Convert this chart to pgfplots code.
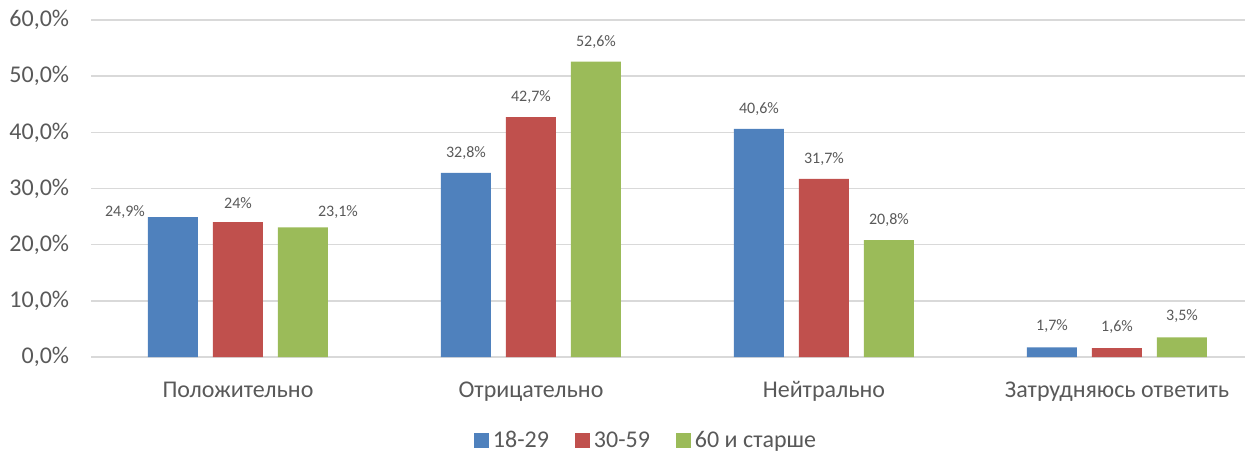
\documentclass[border=0pt]{standalone}
\usepackage{fontspec}
\setmainfont{Carlito}
\usepackage{pgfplots}
\pgfplotsset{compat=1.18}
\definecolor{cA}{HTML}{4F81BD}
\definecolor{cB}{HTML}{C0504D}
\definecolor{cC}{HTML}{9BBB59}
\definecolor{txt}{HTML}{595959}
\definecolor{grd}{HTML}{D9D9D9}
\begin{document}
\begin{tikzpicture}
\begin{axis}[
  scale only axis,
  width=576.75pt, height=168.5pt,
  xmin=-0.5, xmax=3.437,
  ymin=0, ymax=60,
  ytick={0,10,...,60},
  xtick={0,1,2,3},
  xticklabels={Положительно,Отрицательно,Нейтрально,Затрудняюсь ответить},
  axis line style={draw=none},
  major tick length=0pt,
  ymajorgrids,
  grid style={grd, line width=0.8pt},
  tick label style={font=\fontsize{12}{14}\selectfont, text=txt},
  yticklabel style={anchor=east, inner sep=0pt, xshift=-11pt},
  xticklabel style={anchor=base, inner sep=0pt, yshift=-20pt},
  /pgf/number format/assume math mode=true,
  yticklabel={\pgfmathprintnumber[fixed,fixed zerofill,precision=1,use comma]{\tick}\%},
  ybar, bar width=25pt,
  clip=false,
  point meta=explicit symbolic,
  visualization depends on={value \thisrow{dx} \as \labdx},
  visualization depends on={value \thisrow{dy} \as \labdy},
  nodes near coords={\pgfplotspointmeta\%},
  nodes near coords style={font=\fontsize{8}{9.6}\selectfont, text=txt, anchor=center, inner sep=0pt, xshift=\labdx pt, yshift=\labdy pt},
  legend columns=-1,
  legend style={at={(0.4816,-0.249)}, anchor=center, draw=none, font=\fontsize{12}{14}\selectfont, text=txt,
    /tikz/every even column/.style={column sep=11pt}, inner sep=0pt},
  legend image code/.code={\fill[#1] (0pt,-3.75pt) rectangle (7.5pt,3.75pt);},
]
\addplot[fill=cA, draw=none, bar shift=-32.5pt] table[x=x, y=y, meta=lab] {
x y lab dx dy
0 24.9 24,9 -24 2.5
1 32.8 32,8 0 10
2 40.6 40,6 0 10
3 1.7 1,7 0 10.5
};
\addplot[fill=cB, draw=none, bar shift=0pt] table[x=x, y=y, meta=lab] {
x y lab dx dy
0 24.0 24 0 9.5
1 42.7 42,7 0 10
2 31.7 31,7 0 10
3 1.6 1,6 0 10.5
};
\addplot[fill=cC, draw=none, bar shift=32.5pt] table[x=x, y=y, meta=lab] {
x y lab dx dy
0 23.1 23,1 17.5 7.5
1 52.6 52,6 0 10
2 20.8 20,8 0 10
3 3.5 3,5 0 10.5
};
\legend{18-29, 30-59, 60 и старше}
\end{axis}
\pgfresetboundingbox
\path[use as bounding box] (-45.75pt,-47.5pt) rectangle (576.75pt,178.5pt);
\end{tikzpicture}
\end{document}
